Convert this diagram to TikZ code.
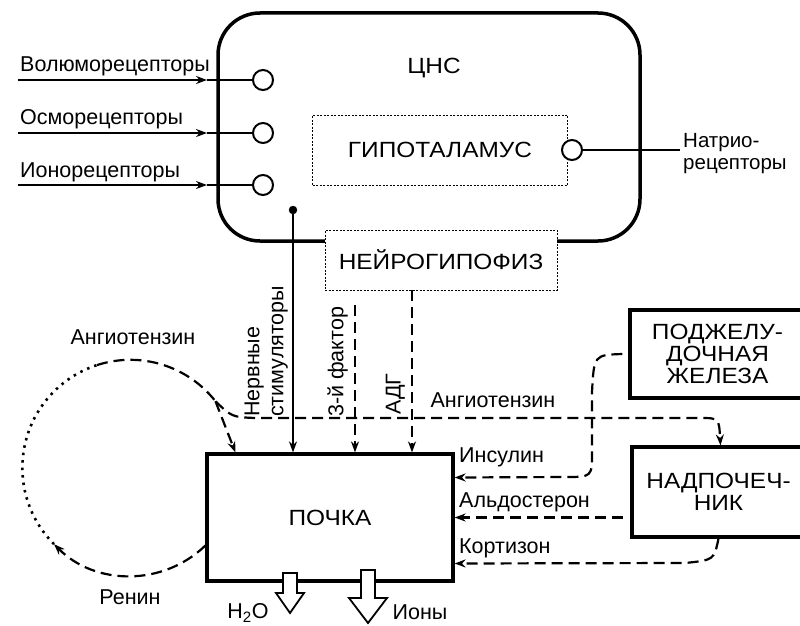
\documentclass[tikz,border=0pt]{standalone}
\usepackage{fontspec}
\setmainfont{Liberation Sans}
\newfontfamily\widefont[FakeStretch=1.11]{Liberation Sans}
\usetikzlibrary{arrows.meta, positioning, calc}

\tikzset{
  cnsbox/.style={
    rectangle, draw, line width=3.5pt, rounded corners=42pt,
    minimum width=422pt, minimum height=228pt
  },
  zone/.style={
    rectangle, draw, fill=white, line width=0.9pt,
    dash pattern=on 2pt off 1.5pt, font=\widefont\fontsize{22}{22}\selectfont
  },
  receptor/.style={
    circle, draw, fill=white, line width=2pt, minimum size=20pt, inner sep=0pt
  },
  organ/.style={
    rectangle, draw, fill=white, line width=3.2pt, align=center,
    font=\widefont\fontsize{22}{22}\selectfont
  },
  nerve/.style={line width=2pt},
  hormone/.style={line width=2.2pt, dash pattern=on 11pt off 6pt},
  trace/.style={line width=2.6pt, dash pattern=on 2.5pt off 5pt},
  outflow/.style={draw, fill=white, line width=1.8pt, line join=miter},
  vlabel/.style={rotate=90, anchor=south west, align=left}
}

\begin{document}
\begin{tikzpicture}[x=1pt, y=-1pt, >={Stealth[length=11pt,width=8pt]},
  every node/.style={font=\fontsize{21.5}{22}\selectfont, inner sep=1pt}]
  \useasboundingbox (0,0) rectangle (800,626);

  % CNS
  \node[cnsbox] (cns) at (429,127) {};
  \node[font=\widefont\fontsize{22}{22}\selectfont] (cnslabel) at (434,68) {ЦНС};
  \node[zone, minimum width=255pt, minimum height=70pt] (hypo) at (440,150) {ГИПОТАЛАМУС};
  \node[zone, minimum width=232pt, minimum height=60pt] (neuro) at (441,260) {НЕЙРОГИПОФИЗ};

  % Receptors
  \node[receptor] (volrec) at (263,80) {};
  \node[receptor] (osmrec) at (263,133) {};
  \node[receptor] (ionrec) at (263,185) {};
  \coordinate (volin) at (18,80);
  \coordinate (voltip) at (207,80);
  \coordinate (osmin) at (18,133);
  \coordinate (osmtip) at (207,133);
  \coordinate (ionin) at (18,185);
  \coordinate (iontip) at (207,185);
  \draw[nerve,->] (volin) -- (voltip);
  \draw[nerve] (voltip) -- (volrec);
  \draw[nerve,->] (osmin) -- (osmtip);
  \draw[nerve] (osmtip) -- (osmrec);
  \draw[nerve,->] (ionin) -- (iontip);
  \draw[nerve] (iontip) -- (ionrec);
  \node[anchor=base west] (vollabel) at (19,71) {Волюморецепторы};
  \node[anchor=base west] (osmlabel) at (19,124) {Осморецепторы};
  \node[anchor=base west] (ionlabel) at (19,177) {Ионорецепторы};

  \node[receptor] (natrec) at (572,150) {};
  \coordinate (natend) at (680,150);
  \draw[nerve] (natrec) -- (natend);
  \node[anchor=north west, align=left, font=\fontsize{20.5}{22}\selectfont] (natlabel) at (682,132) {Натрио-\\рецепторы};

  % Kidney and glands
  \node[organ, minimum width=246pt, minimum height=127pt] (kidney) at (330,517.5) {ПОЧКА};
  \node[organ, minimum width=175pt, minimum height=88pt] (pancreas) at (717.5,354) {ПОДЖЕЛУ-\\ДОЧНАЯ\\ЖЕЛЕЗА};
  \node[organ, minimum width=173pt, minimum height=90pt] (adrenal) at (718.5,492) {НАДПОЧЕЧ-\\НИК};

  % Signals from above
  \node[circle, draw, fill, inner sep=0pt, minimum size=8pt] (nervedot) at (293,210) {};
  \draw[nerve,->] (nervedot) -- (nervedot |- kidney.north);
  \node[vlabel, font=\fontsize{21.5}{24}\selectfont] (nervelabel) at (289,418) {Нервные\\стимуляторы};

  \coordinate (thirdtop) at (355,305);
  \draw[hormone,->] (thirdtop) -- (thirdtop |- kidney.north);
  \node[vlabel] (thirdlabel) at (349,418) {3-й фактор};

  \coordinate (adhtop) at ([xshift=-29pt]neuro.south);
  \draw[hormone,->] (adhtop) -- (adhtop |- kidney.north);
  \node[vlabel] (adhlabel) at (406,416) {АДГ};

  % Renin - angiotensin loop
  \coordinate (reninstart) at ([yshift=-28pt]kidney.west);
  \draw[hormone,->] (reninstart) arc[start angle=46, end angle=135, radius=108] coordinate (reninend);
  \draw[trace] (reninend) arc[start angle=135, end angle=252, radius=108] coordinate (angtop);
  \draw[hormone] (angtop) arc[start angle=252, end angle=322, radius=108] coordinate (angsplit);
  \draw[hormone,->] (angsplit) -- ([xshift=30pt]kidney.north west);
  \draw[hormone,->] (angsplit) .. controls (232,417) .. (255,418) -- (700,418)
    .. controls (719,418) .. ([xshift=2pt]adrenal.north);
  \node (angleft) at (133,337) {Ангиотензин};
  \node (reninlabel) at (130,597) {Ренин};
  \node (angright) at (493,400) {Ангиотензин};

  % Hormones to the kidney
  \draw[hormone,->] ([xshift=-6pt]pancreas.west) .. controls (594,355) .. (592,392) -- (592,452)
    .. controls (592,477) .. (565,477) -- ([yshift=40pt]kidney.east);
  \node[anchor=base west] (insulinlabel) at (458,462) {Инсулин};
  \coordinate (aldostart) at (623,517.5);
  \draw[hormone,->] (aldostart) -- (kidney.east);
  \node[anchor=base west] (aldolabel) at (458,507) {Альдостерон};
  \draw[hormone,->] (adrenal.south) .. controls (714,560) .. (685,563) -- ([yshift=-46pt]kidney.east);
  \node[anchor=base west] (cortlabel) at (458,553) {Кортизон};

  % Outflow
  \coordinate (h2oout) at (290,573);
  \draw[outflow] (h2oout) ++(-7,0) -- ++(0,20) -- ++(-7,0) -- ++(14,20) -- ++(14,-20) -- ++(-7,0) -- ++(0,-20) -- cycle;
  \coordinate (ionout) at (368,570);
  \draw[outflow] (ionout) ++(-7,0) -- ++(0,28) -- ++(-12,0) -- ++(19,25) -- ++(19,-25) -- ++(-12,0) -- ++(0,-28) -- cycle;
  \node (h2olabel) at (248,613) {H\textsubscript{2}O};
  \node (ionslabel) at (420,612) {Ионы};

\end{tikzpicture}
\end{document}
